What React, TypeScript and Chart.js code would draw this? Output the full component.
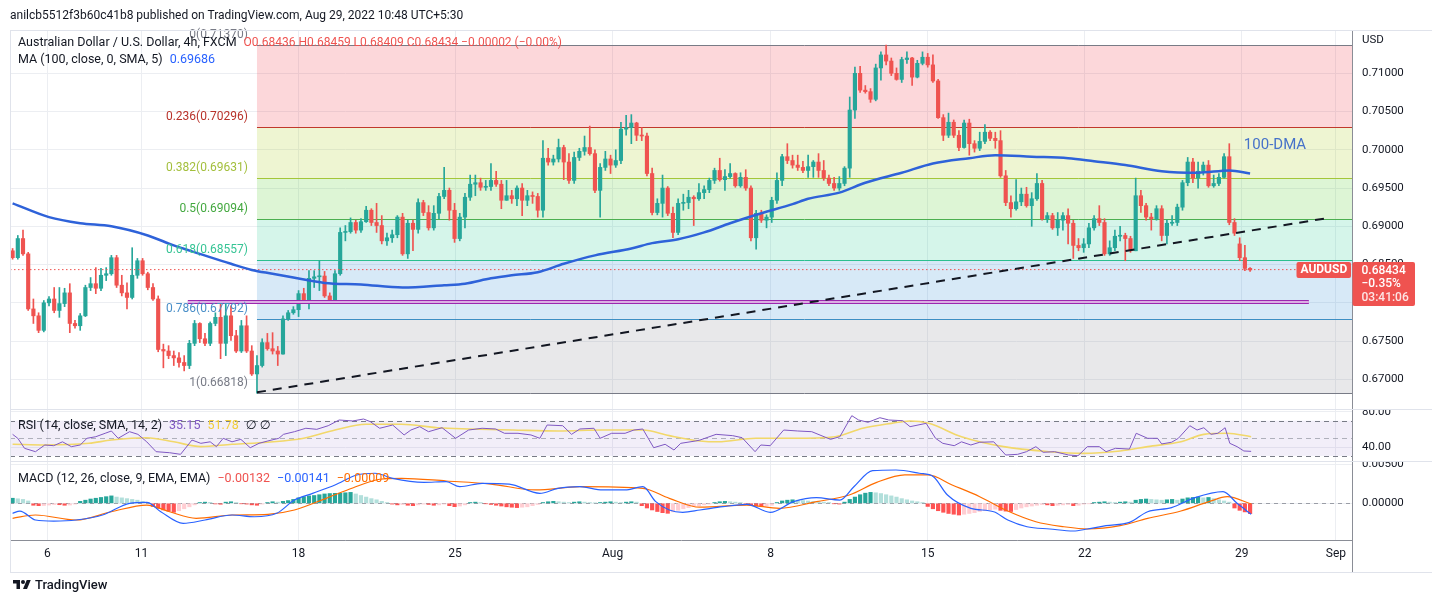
import React, { useEffect, useRef } from 'react';
import { Chart, registerables } from 'chart.js';

Chart.register(...registerables);

// ---------------- data ----------------
// AUD/USD 4h candles, prices in units of 0.0001
const opens = [6868,6859,6884,6864,6792,6783,6764,6800,6805,6790,
 6799,6813,6773,6770,6783,6820,6825,6819,6836,6838,
 6859,6823,6813,6807,6836,6855,6838,6820,6805,6739,
 6737,6731,6728,6722,6718,6747,6773,6753,6747,6773,
 6781,6747,6783,6757,6737,6770,6737,6707,6718,6748,
 6740,6737,6733,6779,6787,6791,6812,6800,6832,6834,
 6835,6809,6803,6838,6892,6893,6905,6895,6906,6921,
 6905,6901,6881,6885,6889,6912,6864,6904,6896,6931,
 6918,6898,6917,6939,6947,6921,6884,6912,6938,6955,
 6957,6951,6952,6960,6955,6934,6940,6936,6950,6934,
 6940,6939,6921,6989,6984,6988,7003,6984,6960,6990,
 6998,7003,6995,6947,6977,6988,6980,6986,7027,7029,
 7035,7019,7018,6969,6918,6930,6950,6917,6892,6930,
 6931,6938,6936,6944,6948,6960,6973,6961,6965,6969,
 6953,6964,6950,6885,6917,6908,6912,6934,6960,6991,
 6986,6980,6977,6973,6978,6984,6973,6963,6956,6950,
 6956,6976,7052,7100,7078,7076,7066,7107,7124,7116,
 7100,7092,7118,7120,7095,7113,7121,7111,7090,7042,
 7019,7036,7019,7003,7035,7008,7002,7011,7023,7015,
 7012,6966,6931,6923,6932,6942,6927,6936,6956,6910,
 6914,6898,6908,6914,6904,6875,6872,6877,6898,6910,
 6905,6864,6872,6887,6888,6884,6868,6940,6927,6912,
 6910,6923,6888,6904,6905,6925,6957,6984,6963,6972,
 6980,6953,6956,6964,6991,6905,6877,6859,6845];
const highs = [6871,6888,6895,6866,6805,6787,6803,6808,6820,6820,
 6819,6825,6777,6786,6823,6833,6846,6845,6846,6862,
 6862,6836,6826,6872,6858,6858,6840,6825,6809,6746,
 6744,6737,6735,6731,6751,6777,6774,6760,6775,6787,
 6802,6802,6796,6764,6777,6783,6744,6731,6753,6760,
 6761,6743,6783,6790,6795,6816,6819,6842,6842,6855,
 6841,6813,6842,6898,6901,6911,6908,6910,6926,6923,
 6930,6914,6891,6895,6914,6917,6908,6908,6936,6934,
 6927,6927,6943,6977,6950,6930,6917,6943,6967,6967,
 6963,6960,6982,6972,6960,6960,6947,6953,6956,6947,
 6945,6943,7012,7002,6993,7014,7006,6995,6997,7002,
 7018,7031,7000,6982,6998,6993,7000,7036,7045,7046,
 7036,7029,7022,6976,6936,6967,6952,6925,6936,6942,
 6947,6940,6956,6953,6963,6976,6989,6974,6982,6970,
 6970,6974,6953,6921,6921,6915,6938,6970,6994,7008,
 6993,6993,6985,6993,6986,6995,6986,6967,6964,6965,
 6978,7069,7108,7109,7084,7080,7112,7128,7137,7120,
 7107,7121,7128,7121,7117,7128,7126,7124,7092,7046,
 7048,7039,7025,7039,7040,7012,7023,7033,7025,7023,
 7025,6973,6940,6961,6950,6951,6944,6969,6960,6918,
 6917,6918,6918,6923,6908,6884,6884,6904,6914,6927,
 6910,6881,6895,6900,6891,6887,6963,6947,6930,6917,
 6927,6927,6908,6914,6929,6960,6990,6989,6984,6984,
 6986,6967,6969,6995,7008,6910,6885,6875,6846];
const lows = [6857,6857,6862,6790,6773,6761,6762,6796,6787,6781,
 6795,6761,6767,6764,6782,6816,6812,6816,6829,6836,
 6820,6809,6792,6805,6832,6836,6817,6803,6736,6715,
 6727,6718,6716,6711,6714,6744,6748,6744,6744,6770,
 6727,6731,6751,6735,6735,6735,6705,6682,6716,6738,
 6733,6718,6733,6777,6785,6782,6799,6792,6820,6816,
 6807,6800,6800,6836,6881,6891,6891,6892,6905,6901,
 6892,6877,6875,6879,6885,6862,6858,6868,6891,6914,
 6895,6895,6910,6936,6908,6879,6881,6898,6934,6940,
 6947,6947,6947,6952,6923,6934,6930,6927,6914,6927,
 6930,6912,6912,6980,6980,6984,6961,6956,6956,6986,
 6993,6993,6944,6912,6973,6969,6977,6982,7019,7008,
 7012,7012,6966,6915,6915,6912,6914,6885,6889,6921,
 6923,6901,6934,6936,6944,6956,6959,6947,6963,6951,
 6951,6947,6881,6870,6905,6898,6905,6930,6953,6982,
 6976,6973,6970,6964,6964,6964,6960,6953,6947,6947,
 6953,6964,7041,7075,7074,7062,7064,7091,7111,7097,
 7091,7088,7113,7084,7094,7111,7108,7088,7041,7012,
 7016,7016,6999,7002,6993,6997,6999,7008,7012,7002,
 6964,6927,6912,6921,6927,6925,6900,6934,6908,6905,
 6896,6888,6895,6877,6858,6868,6866,6872,6895,6901,
 6862,6862,6868,6881,6855,6866,6868,6918,6908,6895,
 6908,6881,6877,6901,6901,6921,6953,6957,6950,6967,
 6951,6951,6953,6963,6902,6888,6855,6842,6841];
const closes = [6859,6884,6864,6792,6783,6764,6800,6805,6790,6799,
 6813,6773,6770,6783,6820,6825,6819,6836,6838,6859,
 6823,6813,6807,6836,6855,6838,6820,6805,6739,6737,
 6731,6728,6722,6718,6747,6773,6753,6747,6773,6781,
 6747,6783,6757,6737,6770,6737,6707,6718,6748,6740,
 6737,6733,6779,6787,6791,6812,6800,6832,6834,6835,
 6809,6803,6838,6892,6893,6905,6895,6906,6921,6905,
 6901,6881,6885,6889,6912,6864,6904,6896,6931,6918,
 6898,6917,6939,6947,6921,6884,6912,6938,6955,6957,
 6951,6952,6960,6955,6934,6940,6936,6950,6934,6940,
 6939,6921,6989,6984,6988,7003,6984,6960,6990,6998,
 7003,6995,6947,6977,6988,6980,6986,7027,7029,7035,
 7019,7018,6969,6918,6930,6950,6917,6892,6930,6931,
 6938,6936,6944,6948,6960,6973,6961,6965,6969,6953,
 6964,6950,6885,6917,6908,6912,6934,6960,6991,6986,
 6980,6977,6973,6978,6984,6973,6963,6956,6950,6956,
 6976,7052,7100,7078,7076,7066,7107,7124,7116,7100,
 7092,7118,7120,7095,7113,7121,7111,7090,7042,7019,
 7036,7019,7003,7035,7008,7002,7011,7023,7015,7012,
 6966,6931,6923,6932,6942,6927,6936,6956,6910,6914,
 6898,6908,6914,6904,6875,6872,6877,6898,6910,6905,
 6864,6872,6887,6888,6884,6868,6940,6927,6912,6910,
 6923,6888,6904,6905,6925,6957,6984,6963,6972,6980,
 6953,6956,6964,6991,6905,6891,6859,6845,6843];

// MA(100) line, read at sample candles
const maIdx = [0,7,13,19,26,31,36,42,46,50,54,60,67,75,83,87,92,96,101,106,112,119,123,128,133,138,144,150,153,159,164,171,177,184,189,196,203,208,214,221,228,234,238];
const maVal = [6930,6912,6904,6900,6888,6875,6864,6851,6843,6838,6833,6826,6824,6820,6823,6825,6832,6836,6840,6851,6862,6871,6878,6883,6892,6904,6917,6929,6936,6944,6957,6970,6982,6989,6993,6991,6989,6985,6980,6972,6970,6973,6969];

// RSI(14) and its SMA
const rsiIdx = [0,1,2.3,4.4,6.2,7.9,9.6,11.3,13,14.3,16,17.8,19,20.3,22.5,24.1,25.8,27.6,30.2,32.3,34.5,36.2,38,39.2,40.5,42.2,43.9,45.7,47.4,49.1,51.2,52.1,54.2,56.4,58.5,60.7,62.8,65.4,67.5,68.8,70.6,73.1,75.3,76.6,78.3,80,82.6,85.2,87.7,90.3,92.9,94.6,97.2,99.7,101.4,102.8,105.8,107.5,109.1,111.8,113,115.2,117.8,119.5,121.2,123.3,125.5,127.2,128.5,131.4,132.2,135.3,138.5,140.3,142.8,143.9,145.7,148.3,151,153.7,157.3,159.1,161.4,162.7,164.5,166.8,168.5,171.2,172.6,175.7,177.5,178.9,181.1,182.5,184.3,186,188.7,191,193.3,195,196.8,198.2,200.4,203.1,204.9,206.7,209,210.3,212.1,214.8,216.1,218.3,220.2,221,222.9,224.2,226.4,227.8,229.1,230.5,231.8,233.2,234.1,235.5,236.8,238.2];
const rsiVal = [54.5,50,38.6,34.8,42.4,41.6,46,40.5,42.4,50,51.8,55.7,58.3,50,57.5,54.5,46,34.8,33.6,31.8,48,44.3,46,40.5,50,46,48.8,39.3,44.3,47,50,54.5,57.5,61.4,60.2,64.3,70.8,69.7,71.9,68.9,61.4,65.1,53.8,59.4,63.2,57.5,62,50,59.4,61.4,60.6,55.7,55.7,53.8,50,65.1,64.3,54.5,60.6,61.4,50,55.7,55.7,59.4,60.6,39.3,43.2,36.7,44.3,47,48,54.5,53,50.7,34.8,42.4,41.6,59.4,58.3,57.5,48.8,51.8,75.7,70.8,68.2,73.4,70.8,70,63.2,67,50,44.3,41.6,46,42.4,45.5,46,31,31.8,34.8,40.5,34.1,34.8,31,30.2,40.5,40.5,34.8,38.6,37.8,55.7,50,50,43.6,45.5,50,64.3,59.4,62,54.5,55.7,62,44.3,40.5,35.6,35.15];
const rsiMaIdx = [0,6.2,14.7,19,25.8,31,36.2,42.2,49.1,56,62,68,74.8,81.7,87.7,96.2,104.9,113.5,121.2,126.3,132.2,135.7,142.9,150.1,158.2,163.5,169,172.6,176.2,182.5,190.6,199.5,205.8,213,218.3,224.7,229.1,233.6,238.2];
const rsiMaVal = [43.2,42.4,44.3,48,50.7,46,40.5,43.2,45.5,50,59.4,65.9,65.9,62,60.6,59.4,58.3,59.4,59.4,53,47,46,50,50,51.8,61.4,67,69.7,67,51.8,40.5,34.8,32.9,35.6,40.5,46,54.5,55.7,51.78];

// MACD (units of 0.00001)
const macdIdx = [0,1.4,4.4,7.9,12.2,17.3,22.5,25.8,28.5,32.8,37,42.2,46.5,50.8,54.2,57.7,62,66.2,69.7,73.1,79.1,83.4,86,90.3,95.5,101.4,104.9,109.1,113.5,117.8,121.2,123.7,126.3,128.9,132.2,136.6,141.2,145.7,150.2,154.6,159.1,161.8,165.4,169.9,174.4,177.1,179.8,184.3,188.7,191.4,195.1,199.5,204,206.7,210.3,214.8,218.3,222.9,227.4,232.8,235.5,238.2];
const macdVal = [-128,-99,-214,-227,-214,-150,0,13,-108,-256,-214,-150,-172,-128,42,128,235,363,385,320,269,277,213,256,247,128,192,213,171,171,213,21,-86,-115,-86,-43,-13,-115,21,72,42,213,418,427,385,341,106,-64,-108,-214,-300,-329,-355,-329,-287,-244,-108,-56,72,149,0,-141];
const signalIdx = [0,4.4,12.2,19,25.8,30.2,35.3,42.2,49.1,54.2,60.3,65.4,70.6,74.8,83.4,92,100.6,109.1,121.2,126.3,132.2,141.2,147.5,154.6,160.9,166.2,171.6,176.1,180.7,186,191.4,196.8,202.2,206.7,213,218.3,224.7,230.1,233.6,238.2];
const signalVal = [-192,-150,-214,-108,-22,-108,-192,-150,-141,-86,64,196,308,320,286,247,171,213,192,64,-50,-22,-64,21,106,269,363,363,235,85,-99,-236,-300,-329,-287,-192,-99,21,85,-9];
const histVal = [65,58,50,30,-25,-30,-28,-22,-15,-18,
 -25,-22,-10,25,40,55,65,75,85,95,
 80,70,60,50,40,25,10,-40,-65,-85,
 -100,-115,-95,-70,-45,-20,10,15,12,-8,
 -12,15,20,10,-5,-10,-20,-25,-10,10,
 20,15,25,35,50,70,85,95,100,110,
 120,125,128,130,135,140,120,100,80,60,
 45,25,10,-10,-20,-15,-25,-30,-20,-10,
 -15,-25,-20,-10,-30,-43,-35,-20,10,15,
 10,-5,-15,-25,-35,-45,-50,-55,-50,-45,
 -30,-15,10,20,25,20,15,10,15,20,
 15,10,5,10,15,20,15,10,15,20,
 15,-30,-60,-85,-105,-120,-128,-110,-90,-70,
 -55,-40,-30,-20,-10,10,20,25,20,15,
 10,-15,-25,-35,-40,-35,-25,10,30,40,
 45,40,35,30,25,20,15,10,-5,-10,
 15,50,80,110,130,140,135,125,110,95,
 80,60,45,30,20,10,-40,-70,-95,-115,
 -130,-140,-150,-140,-130,-120,-105,-95,-85,-75,
 -90,-100,-105,-80,-60,-45,-35,-25,-15,-20,
 -30,-25,-20,-15,-30,-25,-10,-5,10,15,
 20,15,10,15,20,15,40,50,55,50,
 45,40,45,50,40,55,70,75,80,70,
 75,60,45,30,15,-60,-90,-110,-132];

// Fibonacci retracement
const fibLevels = [0, 0.236, 0.382, 0.5, 0.618, 0.786, 1];
const fibPrices = [0.7137, 0.70296, 0.69631, 0.69094, 0.68557, 0.67792, 0.66818];
const fibStartIdx = 47;

// drawn lines
const trendIdx = [47, 252.2];
const trendVal = [6683, 6910];
const supportIdx = [33.7, 249.3];
const supportVal = 6801;
const lastPrice = 6843.4;
const lastPriceEndIdx = 247;
const dmaLabelIdx = 236.8;
const dmaLabelVal = 7006;

// axes
const priceTicks = [6700, 6750, 6800, 6850, 6900, 6950, 7000, 7050, 7100];
const rsiTicks = [40, 80];
const rsiBand = [30, 50, 70];
const macdTicks = [0, 500];
const dateTickIdx = [6.7, 24.8, 55, 85.1, 115.4, 145.8, 176, 206.2, 236.4, 254.5];
const dateTickLabels = ['6', '11', '18', '25', 'Aug', '8', '15', '22', '29', 'Sep'];

// ---------------- styling ----------------
const FONT = 'Roboto, "Noto Sans", "DejaVu Sans", sans-serif';
const TEXT = '#131722';
const GRID = '#eceef2';
const AXIS = '#8a8d96';
const UP = '#26a69a';
const DOWN = '#ef5350';
const X_MIN = -0.5;
const X_MAX = 257.6;
const PRICE_MIN = 6661.2;
const PRICE_MAX = 7156.6;
const RSI_MIN = 24.2;
const RSI_MAX = 83.3;
const MACD_MIN = -470;
const MACD_MAX = 542;

const fibLine = ['#787b86', '#c0392b', '#a4c639', '#4caf50', '#2bbf8f', '#3d8fc4', '#787b86'];
const fibText = ['#787b86', '#b8322a', '#a3bf3c', '#43a83f', '#36c495', '#4a8fc8', '#787b86'];
const fibFills = ['', 'rgba(242,54,69,0.2)', 'rgba(170,205,30,0.2)', 'rgba(85,205,45,0.2)', 'rgba(45,205,150,0.2)', 'rgba(55,145,215,0.2)', 'rgba(140,140,150,0.2)'];

function xAxis(show: boolean): any {
  return {
    type: 'linear',
    min: X_MIN,
    max: X_MAX,
    offset: false,
    grid: { color: GRID, drawTicks: false, offset: false },
    border: { display: show, color: AXIS },
    ticks: {
      display: show,
      autoSkip: false,
      maxRotation: 0,
      padding: 7,
      color: TEXT,
      font: { size: 12, family: FONT },
      callback: (_v: any, i: number) => dateTickLabels[i],
    },
    afterBuildTicks: (s: any) => {
      s.ticks = dateTickIdx.map((v) => ({ value: v }));
    },
    afterFit: (s: any) => {
      s.height = show ? 32 : 0;
      s.paddingLeft = 0;
      s.paddingRight = 0;
    },
  };
}

function yAxis(min: number, max: number, ticks: number[], fmt: (v: number) => string): any {
  return {
    type: 'linear',
    position: 'right',
    min,
    max,
    grid: { color: GRID, drawTicks: false },
    border: { display: true, color: AXIS },
    ticks: { padding: 10, color: TEXT, font: { size: 11.5, family: FONT }, callback: (v: any) => fmt(Number(v)) },
    afterBuildTicks: (s: any) => {
      s.ticks = ticks.map((v) => ({ value: v }));
    },
    afterFit: (s: any) => {
      s.width = 80;
      s.paddingTop = 0;
      s.paddingBottom = 0;
    },
  };
}

const baseOptions = (padding: any) => ({
  responsive: false,
  animation: false,
  devicePixelRatio: 1,
  events: [],
  layout: { padding },
  plugins: { legend: { display: false }, tooltip: { enabled: false } },
});

const mainDeco = {
  id: 'mainDeco',
  beforeDatasetsDraw(chart: any) {
    const { ctx, chartArea: a, scales } = chart;
    const x = scales.x;
    const y = scales.y;
    const x0 = x.getPixelForValue(fibStartIdx);
    ctx.save();
    for (let k = 1; k < fibPrices.length; k++) {
      const t = y.getPixelForValue(fibPrices[k - 1] * 1e4);
      const b = y.getPixelForValue(fibPrices[k] * 1e4);
      ctx.fillStyle = fibFills[k];
      ctx.fillRect(x0, t, a.right - x0, b - t);
    }
    ctx.lineWidth = 1;
    fibPrices.forEach((p, k) => {
      const py = Math.round(y.getPixelForValue(p * 1e4)) + 0.5;
      ctx.strokeStyle = fibLine[k];
      ctx.beginPath();
      ctx.moveTo(x0, py);
      ctx.lineTo(a.right, py);
      ctx.stroke();
    });
    ctx.restore();
  },
  afterDatasetsDraw(chart: any) {
    const { ctx, scales } = chart;
    const x = scales.x;
    const y = scales.y;
    const x0 = x.getPixelForValue(fibStartIdx);
    ctx.save();
    ctx.font = `12px ${FONT}`;
    ctx.textAlign = 'right';
    ctx.textBaseline = 'middle';
    fibPrices.forEach((p, k) => {
      ctx.fillStyle = fibText[k];
      ctx.fillText(`${fibLevels[k]}(${p.toFixed(5)})`, x0 - 9, y.getPixelForValue(p * 1e4) - 10);
    });
    ctx.font = `15px ${FONT}`;
    ctx.textAlign = 'left';
    ctx.fillStyle = '#4672c9';
    ctx.fillText('100-DMA', x.getPixelForValue(dmaLabelIdx), y.getPixelForValue(dmaLabelVal));
    ctx.restore();
  },
  afterDraw(chart: any) {
    const { ctx, chartArea: a, scales } = chart;
    const py = scales.y.getPixelForValue(lastPrice);
    ctx.save();
    ctx.fillStyle = DOWN;
    ctx.beginPath();
    ctx.roundRect(a.right - 55.5, py - 7.5, 54.5, 16, 2);
    ctx.fill();
    ctx.beginPath();
    ctx.roundRect(a.right + 0.5, py - 7.5, 62.5, 44, 2);
    ctx.fill();
    ctx.fillStyle = '#ffffff';
    ctx.textBaseline = 'middle';
    ctx.textAlign = 'center';
    ctx.font = `bold 12px ${FONT}`;
    ctx.fillText('AUDUSD', a.right - 28.2, py + 0.8);
    ctx.textAlign = 'left';
    ctx.font = `500 12px ${FONT}`;
    ctx.fillText((lastPrice / 1e4).toFixed(5), a.right + 9.5, py + 1);
    ctx.fillText('\u22120.35%', a.right + 9.5, py + 14.5);
    ctx.fillStyle = 'rgba(255,255,255,0.85)';
    ctx.fillText('03:41:06', a.right + 9.5, py + 28.5);
    ctx.fillStyle = TEXT;
    ctx.font = `11.5px ${FONT}`;
    ctx.fillText('USD', a.right + 10, 40.5);
    ctx.restore();
  },
};

const rsiDeco = {
  id: 'rsiDeco',
  beforeDatasetsDraw(chart: any) {
    const { ctx, chartArea: a, scales } = chart;
    const y = scales.y;
    const yHi = y.getPixelForValue(rsiBand[2]);
    const yLo = y.getPixelForValue(rsiBand[0]);
    ctx.save();
    ctx.fillStyle = 'rgba(126,87,194,0.1)';
    ctx.fillRect(a.left, yHi, a.right - a.left, yLo - yHi);
    ctx.lineWidth = 1;
    ctx.setLineDash([5, 4]);
    rsiBand.forEach((v) => {
      const py = Math.round(y.getPixelForValue(v)) + 0.5;
      ctx.strokeStyle = v === 50 ? 'rgba(120,123,134,0.55)' : '#787b86';
      ctx.beginPath();
      ctx.moveTo(a.left, py);
      ctx.lineTo(a.right, py);
      ctx.stroke();
    });
    ctx.restore();
  },
};

const macdDeco = {
  id: 'macdDeco',
  beforeDatasetsDraw(chart: any) {
    const { ctx, chartArea: a, scales } = chart;
    const py = Math.round(scales.y.getPixelForValue(0)) + 0.5;
    ctx.save();
    ctx.lineWidth = 1;
    ctx.setLineDash([4, 4]);
    ctx.strokeStyle = 'rgba(120,123,134,0.7)';
    ctx.beginPath();
    ctx.moveTo(a.left, py);
    ctx.lineTo(a.right, py);
    ctx.stroke();
    ctx.restore();
  },
};

const pts = (xs: number[], ys: number[]) => xs.map((x, k) => ({ x, y: ys[k] }));

function mainConfig(): any {
  const idx = closes.map((_, i) => i);
  const colors = closes.map((c, i) => (c >= opens[i] ? UP : DOWN));
  return {
    type: 'bar',
    data: {
      datasets: [
        {
          type: 'bar',
          data: idx.map((i) => ({ x: i, y: [lows[i], highs[i]] })),
          backgroundColor: colors,
          barThickness: 1,
          grouped: false,
          order: 10,
        },
        {
          type: 'bar',
          data: idx.map((i) => ({ x: i, y: [opens[i], closes[i]] })),
          backgroundColor: colors,
          barThickness: 3.5,
          minBarLength: 1,
          grouped: false,
          order: 9,
        },
        {
          type: 'line',
          data: [{ x: X_MIN, y: lastPrice }, { x: lastPriceEndIdx, y: lastPrice }],
          borderColor: DOWN,
          borderWidth: 1,
          borderDash: [1.5, 2.5],
          pointRadius: 0,
          order: 6,
        },
        {
          type: 'line',
          data: supportIdx.map((x) => ({ x, y: supportVal })),
          borderColor: '#9c27b0',
          borderWidth: 4,
          pointRadius: 0,
          order: 5,
        },
        {
          type: 'line',
          data: supportIdx.map((x) => ({ x, y: supportVal })),
          borderColor: '#f1dcf5',
          borderWidth: 1.4,
          pointRadius: 0,
          order: 4,
        },
        {
          type: 'line',
          data: pts(maIdx, maVal),
          borderColor: '#2e62d9',
          borderWidth: 2.5,
          pointRadius: 0,
          cubicInterpolationMode: 'monotone',
          order: 3,
        },
        {
          type: 'line',
          data: pts(trendIdx, trendVal),
          borderColor: '#131722',
          borderWidth: 2,
          borderDash: [9, 7],
          pointRadius: 0,
          order: 2,
        },
      ],
    },
    options: {
      ...baseOptions({ left: 10, top: 30, right: 0, bottom: 1 }),
      scales: {
        x: xAxis(false),
        y: yAxis(PRICE_MIN, PRICE_MAX, priceTicks, (v) => (v / 1e4).toFixed(5)),
      },
    },
    plugins: [mainDeco],
  };
}

function rsiConfig(): any {
  return {
    type: 'line',
    data: {
      datasets: [
        { data: pts(rsiIdx, rsiVal), borderColor: '#7e57c2', borderWidth: 1, pointRadius: 0, order: 1 },
        {
          data: pts(rsiMaIdx, rsiMaVal),
          borderColor: '#f2d86a',
          borderWidth: 1.6,
          pointRadius: 0,
          cubicInterpolationMode: 'monotone',
          order: 2,
        },
      ],
    },
    options: {
      ...baseOptions({ left: 10, top: 0, right: 0, bottom: 0 }),
      scales: { x: xAxis(false), y: yAxis(RSI_MIN, RSI_MAX, rsiTicks, (v) => v.toFixed(2)) },
    },
    plugins: [rsiDeco],
  };
}

function macdConfig(): any {
  const histColors = histVal.map((v, i) => {
    const prev = i > 0 ? histVal[i - 1] : v;
    if (v >= 0) return v >= prev ? '#26a69a' : '#b2dfdb';
    return v <= prev ? '#ff5252' : '#ffcdd2';
  });
  return {
    type: 'bar',
    data: {
      datasets: [
        {
          type: 'bar',
          data: histVal.map((v, i) => ({ x: i, y: v })),
          backgroundColor: histColors,
          barThickness: 3.5,
          grouped: false,
          order: 5,
        },
        {
          type: 'line',
          data: pts(signalIdx, signalVal),
          borderColor: '#ff6d00',
          borderWidth: 1.2,
          pointRadius: 0,
          cubicInterpolationMode: 'monotone',
          order: 2,
        },
        {
          type: 'line',
          data: pts(macdIdx, macdVal),
          borderColor: '#2962ff',
          borderWidth: 1.2,
          pointRadius: 0,
          cubicInterpolationMode: 'monotone',
          order: 1,
        },
      ],
    },
    options: {
      ...baseOptions({ left: 10, top: 0, right: 0, bottom: 30 }),
      scales: { x: xAxis(true), y: yAxis(MACD_MIN, MACD_MAX, macdTicks, (v) => (v / 1e5).toFixed(5)) },
    },
    plugins: [macdDeco],
  };
}

const txt: React.CSSProperties = {
  position: 'absolute',
  whiteSpace: 'nowrap',
  fontFamily: FONT,
  fontSize: 12.5,
  lineHeight: '16px',
  color: TEXT,
};

const line = (left: number, top: number, width: number, height: number, color: string): React.CSSProperties => ({
  position: 'absolute',
  left,
  top,
  width,
  height,
  background: color,
});

export default function App() {
  const refA = useRef<HTMLCanvasElement>(null);
  const refB = useRef<HTMLCanvasElement>(null);
  const refC = useRef<HTMLCanvasElement>(null);

  useEffect(() => {
    Chart.defaults.font.family = FONT;
    const charts = [
      new Chart(refA.current as HTMLCanvasElement, mainConfig()),
      new Chart(refB.current as HTMLCanvasElement, rsiConfig()),
      new Chart(refC.current as HTMLCanvasElement, macdConfig()),
    ];
    return () => charts.forEach((c) => c.destroy());
  }, []);

  const sp = (color: string, text: string) => (
    <span style={{ color, marginLeft: 7 }}>{text}</span>
  );

  return (
    <div style={{ position: 'absolute', left: 0, top: 0, width: 1432, height: 602, background: '#fff', overflow: 'hidden' }}>
      <canvas ref={refA} width={1432} height={410} style={{ position: 'absolute', left: 0, top: 0 }} />
      <canvas ref={refB} width={1432} height={52} style={{ position: 'absolute', left: 0, top: 409 }} />
      <canvas ref={refC} width={1432} height={141} style={{ position: 'absolute', left: 0, top: 461 }} />

      <div style={line(10, 30, 1422, 1, '#e0e3eb')} />
      <div style={line(10, 30, 1, 542, '#e0e3eb')} />
      <div style={line(10, 409, 1422, 1, '#e0e3eb')} />
      <div style={line(10, 461, 1422, 1, '#e0e3eb')} />
      <div style={line(10, 572, 1422, 1, '#e0e3eb')} />
      <div style={line(1352, 540, 1, 32, AXIS)} />

      <div style={{ ...txt, left: 10, top: 7, fontSize: 12 }}>
        anilcb5512f3b60c41b8 published on TradingView.com, Aug 29, 2022 10:48 UTC+5:30
      </div>
      <div style={{ ...txt, left: 18, top: 34 }}>
        Australian Dollar / U.S. Dollar, 4h, FXCM
        <span style={{ color: DOWN, marginLeft: 7, fontSize: 12 }}>
          O0.68436 H0.68459 L0.68409 C0.68434 {'\u2212'}0.00002 ({'\u2212'}0.00%)
        </span>
      </div>
      <div style={{ ...txt, left: 18, top: 51 }}>
        MA (100, close, 0, SMA, 5)
        {sp('#2962ff', '0.69686')}
      </div>
      <div style={{ ...txt, left: 18, top: 417 }}>
        RSI (14, close, SMA, 14, 2)
        {sp('#7e57c2', '35.15')}
        {sp('#f2cf3c', '51.78')}
        {sp(TEXT, '\u2205 \u2205')}
      </div>
      <div style={{ ...txt, left: 18, top: 470 }}>
        MACD (12, 26, close, 9, EMA, EMA)
        {sp(DOWN, '\u22120.00132')}
        {sp('#2962ff', '\u22120.00141')}
        {sp('#ff6d00', '\u22120.00009')}
      </div>

      <div style={{ position: 'absolute', left: 12, top: 577, display: 'flex', alignItems: 'center' }}>
        <svg width="20" height="14" viewBox="0 0 36 28">
          <path d="M14 22H7V11H0V4h14v18z" fill="#131722" />
          <circle cx="20" cy="8" r="4" fill="#131722" />
          <path d="M28 22h-8l7.5-18h8z" fill="#131722" />
        </svg>
        <span style={{ fontFamily: FONT, fontSize: 13, color: TEXT, marginLeft: 3, fontWeight: 500 }}>TradingView</span>
      </div>
    </div>
  );
}
